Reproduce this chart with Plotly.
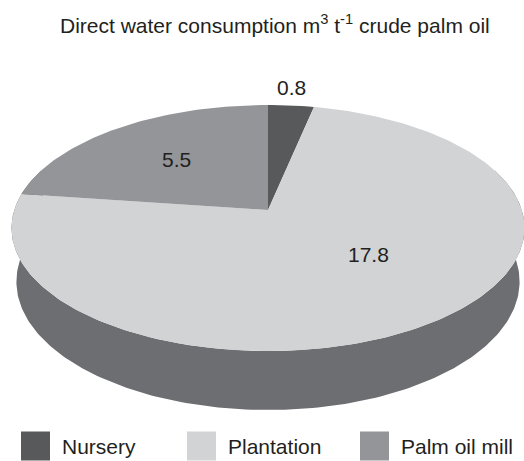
import math
import plotly.graph_objects as go

# ---- data ----
categories = ["Nursery", "Plantation", "Palm oil mill"]
values = [0.8, 17.8, 5.5]
value_labels = ["0.8", "17.8", "5.5"]
title_text = "Direct water consumption m<sup>3</sup> t<sup>-1</sup> crude palm oil"

# ---- style / layout ----
W, H = 524, 461
top_colors = ["#58595b", "#d1d3d4", "#939598"]
side_color = "#6d6e71"
text_color = "#231f20"
FONT = "Liberation Sans, Arial, sans-serif"

# perspective model of the 3D pie (screen pixels)
CX, CY = 268.0, 210.0      # projected pie centre
SIN_A = 0.4744
COS_A = math.sqrt(1 - SIN_A ** 2)
DIST = 6.012                # camera distance (radius units)
FOC = 1525.5                # focal length (px)
THICK = 0.2425              # pie thickness (radius units)


def proj(r, phi_deg, w):
    phi = math.radians(phi_deg)
    u = r * math.sin(phi)
    v = -r * math.cos(phi)
    depth = DIST - (v * COS_A + w * SIN_A)
    x = CX + u * FOC / depth
    y = CY - (-v * SIN_A + w * COS_A) * FOC / depth
    return x, y


total = sum(values)
starts, ends = [], []
acc = 0.0
for v in values:
    starts.append(acc / total * 360.0)
    acc += v
    ends.append(acc / total * 360.0)

fig = go.Figure()

# side wall (front half)
n = 200
side_x, side_y = [], []
a0, a1 = 70.0, 290.0
for i in range(n + 1):
    a = a0 + (a1 - a0) * i / n
    x, y = proj(1, a, 0)
    side_x.append(x); side_y.append(y)
for i in range(n + 1):
    a = a1 - (a1 - a0) * i / n
    x, y = proj(1, a, -THICK)
    side_x.append(x); side_y.append(y)
fig.add_trace(go.Scatter(x=side_x, y=side_y, fill="toself", mode="lines",
                         fillcolor=side_color, line=dict(width=0, color=side_color),
                         hoverinfo="skip", showlegend=False))

# top slices
for k, (s, e) in enumerate(zip(starts, ends)):
    xs, ys = [CX], [CY]
    m = max(8, int((e - s) / 1.0))
    for i in range(m + 1):
        a = s + (e - s) * i / m
        x, y = proj(1, a, 0)
        xs.append(x); ys.append(y)
    xs.append(CX); ys.append(CY)
    fig.add_trace(go.Scatter(x=xs, y=ys, fill="toself", mode="lines",
                             fillcolor=top_colors[k], line=dict(width=0, color=top_colors[k]),
                             hoverinfo="skip", showlegend=False, name=categories[k]))

# value labels (radius fraction + small nudges, px)
label_r = [1.2, 0.6, 0.6]
label_nudge = [(-3, 0), (6, -19), (2, 1)]
for k in range(len(values)):
    mid = (starts[k] + ends[k]) / 2
    x, y = proj(label_r[k], mid, 0)
    fig.add_annotation(x=x + label_nudge[k][0], y=y + label_nudge[k][1], text=value_labels[k],
                       showarrow=False, font=dict(family=FONT, size=21, color=text_color),
                       xanchor="center", yanchor="middle")

# title
fig.add_annotation(x=275, y=24, text=title_text, showarrow=False,
                   font=dict(family=FONT, size=21, color=text_color),
                   xanchor="center", yanchor="middle")

# legend
leg_box_left = [21, 187, 360]
leg_box = 29
leg_y = 446
for k, cat in enumerate(categories):
    fig.add_trace(go.Scatter(x=[leg_box_left[k] + leg_box / 2], y=[leg_y], mode="markers",
                             marker=dict(symbol="square", size=leg_box, color=top_colors[k],
                                         line=dict(width=0)),
                             hoverinfo="skip", showlegend=False))
    fig.add_annotation(x=leg_box_left[k] + leg_box + 10, y=leg_y, text=cat, showarrow=False,
                       font=dict(family=FONT, size=21, color=text_color),
                       xanchor="left", yanchor="middle")

fig.update_layout(
    width=W, height=H, margin=dict(l=0, r=0, t=0, b=0),
    paper_bgcolor="white", plot_bgcolor="white",
    xaxis=dict(range=[0, W], visible=False, fixedrange=True),
    yaxis=dict(range=[H, 0], visible=False, fixedrange=True),
    showlegend=False,
)

fig.write_html("out.html", config={"displayModeBar": False},
               post_script="document.body.style.margin='0';document.body.style.overflow='hidden';")
